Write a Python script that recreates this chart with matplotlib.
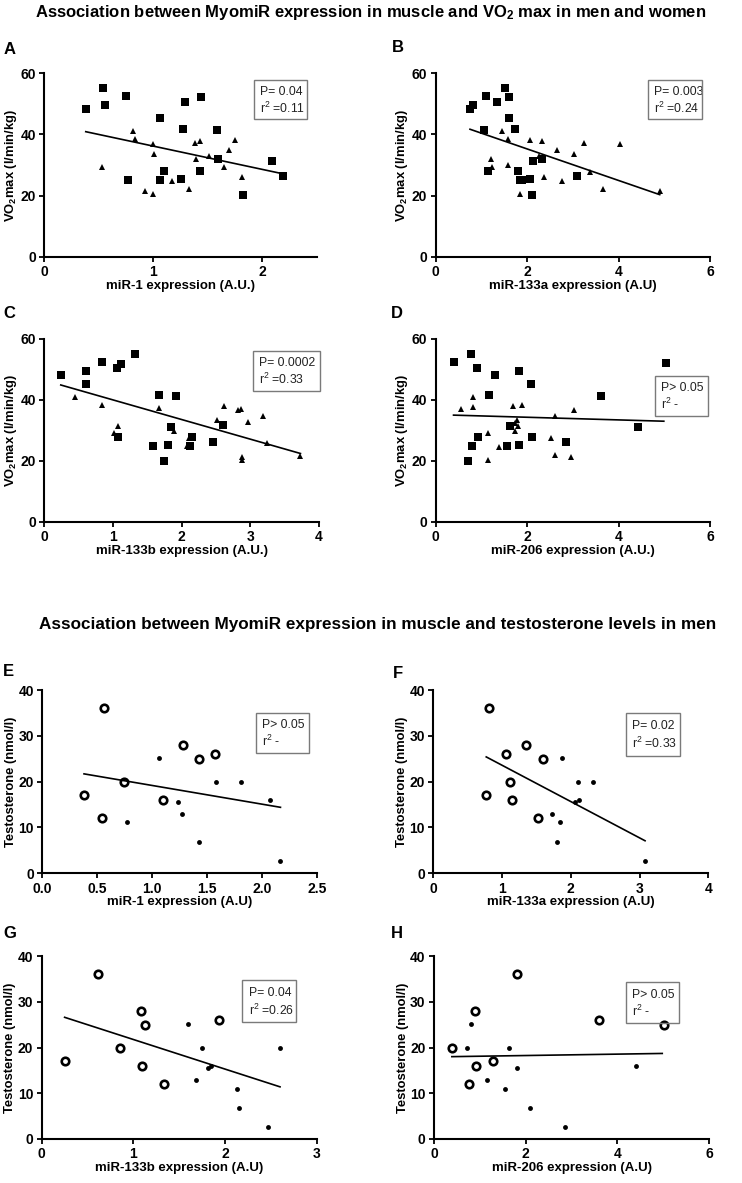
import matplotlib
matplotlib.use('Agg')
import matplotlib.pyplot as plt
from matplotlib.patches import Rectangle

plt.rcParams['font.family'] = ['Liberation Sans', 'DejaVu Sans']
plt.rcParams['mathtext.fontset'] = 'custom'
plt.rcParams['mathtext.rm'] = 'Liberation Sans'
plt.rcParams['mathtext.bf'] = 'Liberation Sans:bold'
plt.rcParams['mathtext.it'] = 'Liberation Sans:italic'

# ---- VO2 max panels (squares = men, triangles = women) ----
a_sq_x = [0.38, 0.54, 0.56, 0.75, 0.77, 1.06, 1.06, 1.10, 1.25, 1.29, 1.27, 1.44, 1.43, 1.58, 1.59, 2.09, 2.19, 1.82]
a_sq_y = [48.2, 55.2, 49.7, 52.5, 25.2, 45.4, 25.1, 28.0, 25.5, 50.6, 41.8, 52.1, 28.1, 41.6, 31.9, 31.3, 26.5, 20.2]
a_tri_x = [0.53, 0.81, 0.83, 0.92, 1.00, 1.00, 1.01, 1.17, 1.33, 1.38, 1.39, 1.43, 1.51, 1.65, 1.69, 1.75, 1.81]
a_tri_y = [29.3, 41.1, 38.4, 21.6, 20.5, 36.8, 33.6, 24.9, 22.1, 37.1, 31.9, 37.9, 32.9, 29.5, 35.0, 38.1, 26.1]
a_fit_x = [0.38, 2.19]
a_fit_y = [40.9, 27.1]

b_sq_x = [0.76, 0.82, 1.11, 1.06, 1.14, 1.35, 1.51, 1.60, 1.60, 1.73, 1.79, 1.84, 1.89, 2.06, 2.11, 2.12, 2.32, 3.08]
b_sq_y = [48.2, 49.7, 52.5, 41.6, 28.0, 50.6, 55.2, 52.1, 45.3, 41.8, 28.1, 25.1, 25.1, 25.5, 20.2, 31.3, 31.9, 26.5]
b_tri_x = [1.20, 1.24, 1.46, 1.58, 1.59, 1.84, 2.07, 2.25, 2.33, 2.37, 2.65, 2.76, 3.03, 3.24, 3.37, 3.67, 4.03, 4.90]
b_tri_y = [31.9, 29.5, 41.1, 38.4, 30.1, 20.5, 38.1, 32.9, 37.9, 26.1, 35.0, 24.9, 33.6, 37.1, 27.8, 22.1, 36.8, 21.6]
b_fit_x = [0.75, 4.90]
b_fit_y = [41.7, 20.3]

c_sq_x = [0.24, 0.60, 0.60, 0.84, 1.06, 1.12, 1.08, 1.32, 1.59, 1.67, 1.74, 1.80, 1.85, 1.92, 2.12, 2.15, 2.46, 2.60]
c_sq_y = [48.1, 45.1, 49.5, 52.4, 50.5, 51.9, 27.8, 55.1, 24.7, 41.6, 19.8, 25.2, 31.0, 41.4, 25.0, 27.9, 26.3, 31.6]
c_tri_x = [0.44, 0.84, 1.01, 1.08, 1.67, 1.89, 2.08, 2.10, 2.51, 2.61, 2.82, 2.87, 2.88, 2.88, 2.97, 3.18, 3.24, 3.73]
c_tri_y = [41.0, 38.2, 29.0, 31.5, 37.4, 29.8, 24.7, 27.6, 33.5, 37.9, 36.7, 36.9, 21.4, 20.3, 32.6, 34.7, 25.7, 21.7]
c_fit_x = [0.24, 3.73]
c_fit_y = [44.9, 22.4]

d_sq_x = [0.39, 0.77, 0.90, 1.30, 1.16, 0.92, 0.80, 0.71, 1.55, 1.63, 1.82, 1.82, 2.09, 2.11, 2.86, 3.62, 4.42, 5.03]
d_sq_y = [52.4, 55.1, 50.5, 48.1, 41.7, 27.8, 24.7, 19.8, 25.0, 31.5, 49.5, 25.2, 45.1, 27.8, 26.1, 41.4, 31.1, 52.0]
d_tri_x = [0.55, 0.81, 0.82, 1.15, 1.15, 1.39, 1.69, 1.74, 1.73, 1.78, 1.80, 1.88, 2.52, 2.61, 2.62, 2.97, 3.02]
d_tri_y = [36.9, 37.6, 41.0, 29.1, 20.4, 24.6, 37.9, 29.8, 32.5, 33.3, 31.5, 38.2, 27.6, 21.8, 34.7, 21.4, 36.7]
d_fit_x = [0.39, 4.99]
d_fit_y = [35.0, 33.0]

# ---- testosterone panels (open circles / filled dots) ----
e_open_x = [0.38, 0.56, 0.54, 0.74, 1.10, 1.28, 1.43, 1.57]
e_open_y = [17.0, 36.0, 12.0, 20.0, 16.0, 28.1, 24.9, 26.0]
e_dot_x = [0.77, 1.06, 1.24, 1.27, 1.43, 1.58, 1.81, 2.07, 2.17]
e_dot_y = [11.1, 25.1, 15.5, 13.0, 6.8, 20.0, 19.9, 16.0, 2.6]
e_fit_x = [0.38, 2.17]
e_fit_y = [21.7, 14.4]

f_open_x = [0.77, 0.81, 1.06, 1.12, 1.15, 1.35, 1.60, 1.52]
f_open_y = [17.0, 36.0, 26.0, 20.0, 16.0, 28.1, 24.9, 12.0]
f_dot_x = [1.87, 1.73, 1.85, 1.80, 2.11, 2.32, 2.06, 2.12, 3.08]
f_dot_y = [25.1, 13.0, 11.1, 6.8, 19.9, 20.0, 15.5, 16.0, 2.6]
f_fit_x = [0.77, 3.08]
f_fit_y = [25.4, 7.1]

g_open_x = [0.25, 0.61, 0.85, 1.08, 1.09, 1.13, 1.33, 1.93]
g_open_y = [17.0, 36.0, 20.0, 28.0, 16.0, 25.0, 12.0, 26.0]
g_dot_x = [1.60, 1.68, 1.75, 1.81, 1.85, 2.13, 2.15, 2.47, 2.60]
g_dot_y = [25.1, 13.0, 19.9, 15.5, 16.0, 11.0, 6.8, 2.6, 20.0]
g_fit_x = [0.25, 2.60]
g_fit_y = [26.6, 11.4]

h_open_x = [0.39, 0.76, 0.90, 0.92, 1.29, 1.81, 3.61, 5.02]
h_open_y = [20.0, 12.0, 28.0, 16.0, 17.0, 36.0, 26.0, 25.0]
h_dot_x = [0.72, 0.81, 1.15, 1.54, 1.64, 1.81, 2.10, 2.85, 4.40]
h_dot_y = [19.9, 25.1, 13.0, 11.0, 20.0, 15.5, 6.8, 2.6, 16.0]
h_fit_x = [0.39, 4.98]
h_fit_y = [18.0, 18.7]

stats = {
    'A': ('P= 0.04', '0.11'), 'B': ('P= 0.003', '0.24'),
    'C': ('P= 0.0002', '0.33'), 'D': ('P> 0.05', None),
    'E': ('P> 0.05', None), 'F': ('P= 0.02', '0.33'),
    'G': ('P= 0.04', '0.26'), 'H': ('P> 0.05', None),
}

title_top = r'Association between MyomiR expression in muscle and VO$_\mathbf{2}$ max in men and women'
title_bottom = 'Association between MyomiR expression in muscle and testosterone levels in men'
vo2_label = r'VO$_\mathbf{2}$max (l/min/kg)'
testo_label = 'Testosterone (nmol/l)'

W, H = 742, 1183
fig = plt.figure(figsize=(W / 100, H / 100), dpi=100)


def px_axes(x0, x1, ytop, ybot):
    return fig.add_axes([x0 / W, 1 - ybot / H, (x1 - x0) / W, (ybot - ytop) / H])


def style(ax, xlim, xticks, ylim, yticks, xlabel, ylabel, xfmt=None):
    ax.set_xlim(xlim)
    ax.set_ylim(ylim)
    ax.set_xticks(xticks)
    ax.set_yticks(yticks)
    if xfmt:
        ax.set_xticklabels([xfmt % t for t in xticks])
    for s in ['top', 'right']:
        ax.spines[s].set_visible(False)
    for s in ['left', 'bottom']:
        ax.spines[s].set_linewidth(1.5)
    ax.tick_params(width=1.3, length=3.5, pad=2.5, labelsize=10)
    for lab in ax.get_xticklabels() + ax.get_yticklabels():
        lab.set_fontweight('bold')
    ax.set_xlabel(xlabel, fontsize=9.5, fontweight='bold', labelpad=0.5)
    ax.set_ylabel(ylabel, fontsize=9.4, fontweight='bold', labelpad=1)


def stat_box(ax, key, box):
    p, r = stats[key]
    l, rgt, t, b = box
    ax.add_patch(Rectangle((l, b), rgt - l, t - b, transform=ax.transAxes,
                           fill=False, edgecolor='#7a7a7a', lw=1.0, clip_on=False, zorder=5))
    hgt = t - b
    ax.text(l + 0.022, t - hgt * 0.31, p, transform=ax.transAxes, fontsize=8.8,
            va='center', ha='left', color='#222222')
    r_txt = r'r$^2$ =' + r if r else r'r$^2$ -'
    ax.text(l + 0.022, t - hgt * 0.72, r_txt, transform=ax.transAxes, fontsize=8.8,
            va='center', ha='left', color='#222222')


def vo2_panel(ax, sx, sy, tx, ty, fx, fy):
    ax.plot(sx, sy, 's', color='black', ms=5.1, mew=0, clip_on=False, zorder=3)
    ax.plot(tx, ty, '^', color='black', ms=4.8, mew=0, clip_on=False, zorder=3)
    ax.plot(fx, fy, '-', color='black', lw=1.2, zorder=4)


def testo_panel(ax, ox, oy, dx, dy, fx, fy):
    ax.plot(ox, oy, 'o', mfc='white', mec='black', ms=5.4, mew=1.9, clip_on=False, zorder=3)
    ax.plot(dx, dy, 'o', color='black', ms=3.5, mew=0, clip_on=False, zorder=3)
    ax.plot(fx, fy, '-', color='black', lw=1.2, zorder=4)


vo_ticks = [0, 20, 40, 60]
t_ticks = [0, 10, 20, 30, 40]

axA = px_axes(44.3, 317.0, 73.3, 256.7)
vo2_panel(axA, a_sq_x, a_sq_y, a_tri_x, a_tri_y, a_fit_x, a_fit_y)
style(axA, (0, 2.5), [0, 1, 2], (0, 60), vo_ticks, 'miR-1 expression (A.U.)', vo2_label)
stat_box(axA, 'A', (0.768, 0.964, 0.964, 0.749))

axB = px_axes(435.7, 710.0, 73.3, 256.7)
vo2_panel(axB, b_sq_x, b_sq_y, b_tri_x, b_tri_y, b_fit_x, b_fit_y)
style(axB, (0, 6), [0, 2, 4, 6], (0, 60), vo_ticks, 'miR-133a expression (A.U)', vo2_label)
stat_box(axB, 'B', (0.773, 0.970, 0.964, 0.749))

axC = px_axes(44.3, 319.0, 339.0, 521.7)
vo2_panel(axC, c_sq_x, c_sq_y, c_tri_x, c_tri_y, c_fit_x, c_fit_y)
style(axC, (0, 4), [0, 1, 2, 3, 4], (0, 60), vo_ticks, 'miR-133b expression (A.U.)', vo2_label)
stat_box(axC, 'C', (0.761, 1.004, 0.936, 0.717))

axD = px_axes(435.7, 710.0, 339.0, 521.7)
vo2_panel(axD, d_sq_x, d_sq_y, d_tri_x, d_tri_y, d_fit_x, d_fit_y)
style(axD, (0, 6), [0, 2, 4, 6], (0, 60), vo_ticks, 'miR-206 expression (A.U.)', vo2_label)
stat_box(axD, 'D', (0.800, 0.994, 0.797, 0.578))

axE = px_axes(42.3, 316.7, 690.0, 873.3)
testo_panel(axE, e_open_x, e_open_y, e_dot_x, e_dot_y, e_fit_x, e_fit_y)
style(axE, (0, 2.5), [0, 0.5, 1, 1.5, 2, 2.5], (0, 40), t_ticks, 'miR-1 expression (A.U)', testo_label, xfmt='%.1f')
stat_box(axE, 'E', (0.779, 0.973, 0.876, 0.655))

axF = px_axes(433.3, 708.3, 690.0, 873.3)
testo_panel(axF, f_open_x, f_open_y, f_dot_x, f_dot_y, f_fit_x, f_fit_y)
style(axF, (0, 4), [0, 1, 2, 3, 4], (0, 40), t_ticks, 'miR-133a expression (A.U)', testo_label)
stat_box(axF, 'F', (0.701, 0.897, 0.876, 0.642))

axG = px_axes(41.7, 316.7, 956.0, 1139.0)
testo_panel(axG, g_open_x, g_open_y, g_dot_x, g_dot_y, g_fit_x, g_fit_y)
style(axG, (0, 3), [0, 1, 2, 3], (0, 40), t_ticks, 'miR-133b expression (A.U)', testo_label)
stat_box(axG, 'G', (0.730, 0.924, 0.867, 0.641))

axH = px_axes(434.0, 709.0, 956.0, 1139.0)
testo_panel(axH, h_open_x, h_open_y, h_dot_x, h_dot_y, h_fit_x, h_fit_y)
style(axH, (0, 6), [0, 2, 4, 6], (0, 40), t_ticks, 'miR-206 expression (A.U)', testo_label)
stat_box(axH, 'H', (0.698, 0.890, 0.856, 0.636))

# panel letters
for letter, (x, y) in {'A': (4, 49), 'B': (392, 48), 'C': (3, 314), 'D': (391, 313),
                       'E': (3, 672), 'F': (393, 673), 'G': (3, 933), 'H': (391, 933)}.items():
    fig.text(x / W, 1 - y / H, letter, fontsize=12, fontweight='bold', va='center', ha='left')

fig.text(371 / W, 1 - 13 / H, title_top, fontsize=12, fontweight='bold', ha='center', va='center')
fig.text(378 / W, 1 - 625 / H, title_bottom, fontsize=12.3, fontweight='bold', ha='center', va='center')

fig.savefig('out.png', dpi=100)
